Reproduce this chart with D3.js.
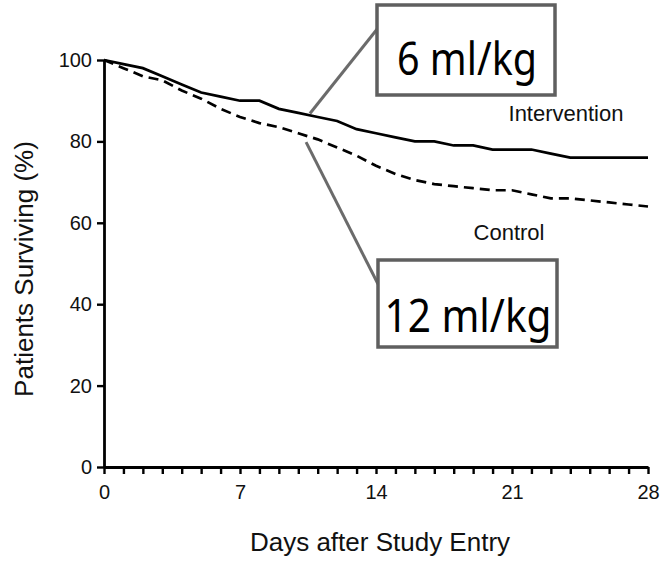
<!DOCTYPE html>
<html>
<head>
<meta charset="utf-8">
<script src="https://cdn.jsdelivr.net/npm/d3@7"></script>
<style>
  body { margin: 0; background: #fff; }
  svg { display: block; }
</style>
</head>
<body>
<div id="chart"></div>
<script>
// days after study entry
const days = d3.range(0, 29);
// percent surviving
const intervention = [100, 99, 98, 96, 94, 92, 91, 90, 90, 88, 87, 86, 85, 83, 82, 81, 80, 80, 79, 79, 78, 78, 78, 77, 76, 76, 76, 76, 76];
const control = [100, 98, 96, 95, 92.5, 90.5, 88, 86, 84.5, 83.5, 82, 80.5, 78.5, 76.5, 74, 72, 70.5, 69.5, 69, 68.5, 68, 68, 67, 66, 66, 65.5, 65, 64.5, 64];
const xTickLabels = [0, 7, 14, 21, 28];
const yTicks = [0, 20, 40, 60, 80, 100];
const seriesNames = ['Intervention', 'Control'];
const calloutLabels = ['6 ml/kg', '12 ml/kg'];

const W = 663, H = 561;
const font = '"Liberation Sans", Arial, sans-serif';

const svg = d3.select('#chart').append('svg')
  .attr('width', W).attr('height', H);

const x = d3.scaleLinear().domain([0, 28]).range([104, 648]);
const y = d3.scaleLinear().domain([0, 100]).range([467, 60]);

//axes
const xAxis = svg.append('g')
  .attr('transform', `translate(0,${y(0)})`)
  .call(d3.axisBottom(x).tickValues(days).tickSize(7).tickSizeOuter(0).tickPadding(11)
    .tickFormat(d => xTickLabels.includes(d) ? d : ''));

const yAxis = svg.append('g')
  .attr('transform', `translate(${x(0)},0)`)
  .call(d3.axisLeft(y).tickValues(yTicks).tickSize(7).tickSizeOuter(0).tickPadding(5));

[xAxis, yAxis].forEach(g => {
  g.select('.domain').attr('stroke', '#000').attr('stroke-width', 2.8);
  g.selectAll('.tick line').attr('stroke', '#000').attr('stroke-width', 2.4);
  g.selectAll('.tick text').attr('fill', '#111').style('font-family', font).style('font-size', '20px');
});

//axis titles
svg.append('text')
  .attr('x', 380).attr('y', 551)
  .attr('text-anchor', 'middle')
  .style('font-family', font).style('font-size', '26px').attr('fill', '#111')
  .text('Days after Study Entry');

svg.append('text')
  .attr('transform', `translate(33,269) rotate(-90)`)
  .attr('text-anchor', 'middle')
  .style('font-family', font).style('font-size', '26px').attr('fill', '#111')
  .text('Patients Surviving (%)');

//survival curves
const line = d3.line().x((d, i) => x(days[i])).y(d => y(d));

svg.append('path')
  .datum(intervention)
  .attr('d', line)
  .attr('fill', 'none').attr('stroke', '#000').attr('stroke-width', 2.7);

svg.append('path')
  .datum(control)
  .attr('d', line)
  .attr('fill', 'none').attr('stroke', '#000').attr('stroke-width', 2.7)
  .attr('stroke-dasharray', '10,6');

//series labels
svg.append('text')
  .attr('x', 566).attr('y', 121)
  .attr('text-anchor', 'middle')
  .style('font-family', font).style('font-size', '22px').attr('fill', '#111')
  .text(seriesNames[0]);

svg.append('text')
  .attr('x', 509).attr('y', 240)
  .attr('text-anchor', 'middle')
  .style('font-family', font).style('font-size', '22px').attr('fill', '#111')
  .text(seriesNames[1]);

//callouts
const callouts = [
  { label: calloutLabels[0], from: [x(10.6), y(86.6) - 1], to: [378, 28], box: [377, 5, 178, 90], tl: 140, tx: 467, ty: 75 },
  { label: calloutLabels[1], from: [x(10.4), y(81.3) + 6], to: [378, 284], box: [378, 260, 179, 87], tl: 167, tx: 468, ty: 332 }
];

callouts.forEach(c => {
  svg.append('line')
    .attr('x1', c.from[0]).attr('y1', c.from[1])
    .attr('x2', c.to[0]).attr('y2', c.to[1])
    .attr('stroke', '#6b6b6b').attr('stroke-width', 3);
  svg.append('rect')
    .attr('x', c.box[0]).attr('y', c.box[1])
    .attr('width', c.box[2]).attr('height', c.box[3])
    .attr('fill', '#fff').attr('stroke', '#5f5f5f').attr('stroke-width', 3.5);
  svg.append('text')
    .attr('x', c.tx).attr('y', c.ty)
    .attr('text-anchor', 'middle')
    .attr('textLength', c.tl).attr('lengthAdjust', 'spacingAndGlyphs')
    .style('font-family', '"Noto Sans", "Open Sans", sans-serif').style('font-size', '45px').attr('fill', '#000')
    .text(c.label);
});
</script>
</body>
</html>
